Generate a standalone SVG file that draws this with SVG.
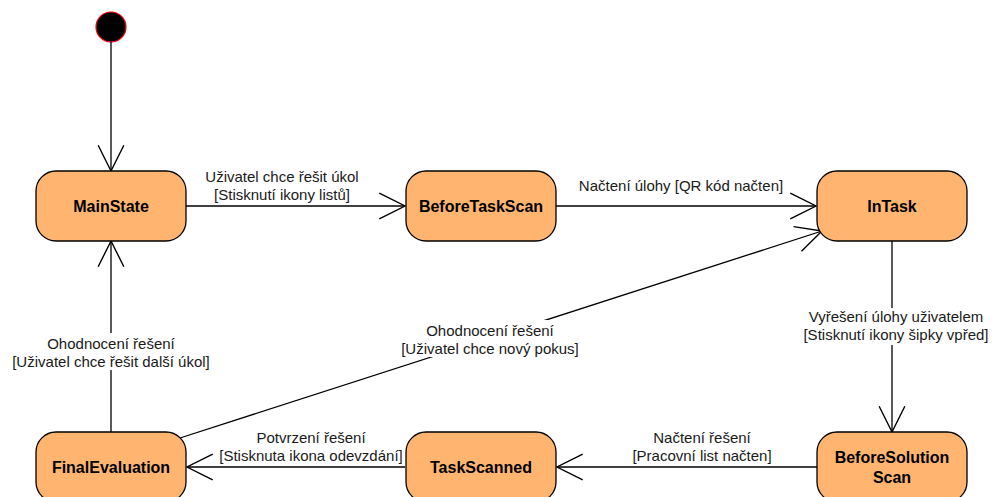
<svg xmlns="http://www.w3.org/2000/svg" width="992" height="497" viewBox="0 0 992 497">
  <style>
    .state rect { fill: #FFB570; stroke: #000; stroke-width: 1.3; }
    .state text { font-family: "Liberation Sans", Arial, sans-serif; font-weight: bold; font-size: 16px; fill: #000; text-anchor: middle; }
    .edge { fill: none; stroke: #000; stroke-width: 1.3; }
    .lbl { font-family: "Liberation Sans", Arial, sans-serif; font-size: 15px; fill: #1a1a1a; text-anchor: middle; }
    .bg { fill: #fff; stroke: none; }
  </style>
  <defs>
    <marker id="open" markerUnits="userSpaceOnUse" markerWidth="30" markerHeight="30" viewBox="-26 -14 28 28" refX="0" refY="0" orient="auto">
      <path d="M-24,-12 L0,0 L-24,12" fill="none" stroke="#000" stroke-width="1.3"/>
    </marker>
  </defs>

  <rect width="992" height="497" fill="#fff"/>

  <!-- initial pseudo-state -->
  <g id="initial">
    <circle cx="111" cy="27" r="15" fill="#000" stroke="#ff0000" stroke-width="1.2"/>
  </g>

  <!-- transitions -->
  <g id="connectors">
    <line class="edge" x1="111" y1="42" x2="111" y2="171" marker-end="url(#open)"/>
    <line class="edge" x1="186" y1="206" x2="405" y2="206" marker-end="url(#open)"/>
    <line class="edge" x1="556" y1="206" x2="816" y2="206" marker-end="url(#open)"/>
    <line class="edge" x1="892" y1="241" x2="892" y2="432" marker-end="url(#open)"/>
    <line class="edge" x1="817" y1="467" x2="557" y2="467" marker-end="url(#open)"/>
    <line class="edge" x1="405" y1="467" x2="187" y2="467" marker-end="url(#open)"/>
    <line class="edge" x1="111" y1="432" x2="111" y2="241" marker-end="url(#open)"/>
    <line class="edge" x1="180" y1="438" x2="822" y2="231" marker-end="url(#open)"/>

    <!-- transition labels -->
    <text class="lbl" x="282" y="182">Uživatel chce řešit úkol</text>
    <text class="lbl" x="282" y="200">[Stisknutí ikony listů]</text>

    <text class="lbl" x="681" y="191">Načtení úlohy [QR kód načten]</text>

    <rect class="bg" x="798" y="308" width="194" height="37"/>
    <text class="lbl" x="896" y="322">Vyřešení úlohy uživatelem</text>
    <text class="lbl" x="896" y="340">[Stisknutí ikony šipky vpřed]</text>

    <text class="lbl" x="702" y="443">Načtení řešení</text>
    <text class="lbl" x="702" y="461">[Pracovní list načten]</text>

    <text class="lbl" x="311" y="443">Potvrzení řešení</text>
    <text class="lbl" x="311" y="461">[Stisknuta ikona odevzdání]</text>

    <rect class="bg" x="6" y="333" width="210" height="37"/>
    <text class="lbl" x="111" y="349">Ohodnocení řešení</text>
    <text class="lbl" x="111" y="367">[Uživatel chce řešit další úkol]</text>

    <rect class="bg" x="394" y="320" width="192" height="37"/>
    <text class="lbl" x="490" y="336">Ohodnocení řešení</text>
    <text class="lbl" x="490" y="354">[Uživatel chce nový pokus]</text>
  </g>

  <!-- states -->
  <g id="MainState" class="state">
    <rect x="36" y="171" width="150" height="70" rx="20" ry="20"/>
    <text x="111" y="212">MainState</text>
  </g>
  <g id="BeforeTaskScan" class="state">
    <rect x="406" y="171" width="150" height="70" rx="20" ry="20"/>
    <text x="481" y="212">BeforeTaskScan</text>
  </g>
  <g id="InTask" class="state">
    <rect x="817" y="171" width="150" height="70" rx="20" ry="20"/>
    <text x="892" y="212">InTask</text>
  </g>
  <g id="BeforeSolutionScan" class="state">
    <rect x="817" y="432" width="150" height="70" rx="20" ry="20"/>
    <text x="892" y="463">BeforeSolution</text>
    <text x="892" y="483">Scan</text>
  </g>
  <g id="TaskScanned" class="state">
    <rect x="406" y="432" width="150" height="70" rx="20" ry="20"/>
    <text x="481" y="473">TaskScanned</text>
  </g>
  <g id="FinalEvaluation" class="state">
    <rect x="36" y="432" width="150" height="70" rx="20" ry="20"/>
    <text x="111" y="473">FinalEvaluation</text>
  </g>
</svg>
